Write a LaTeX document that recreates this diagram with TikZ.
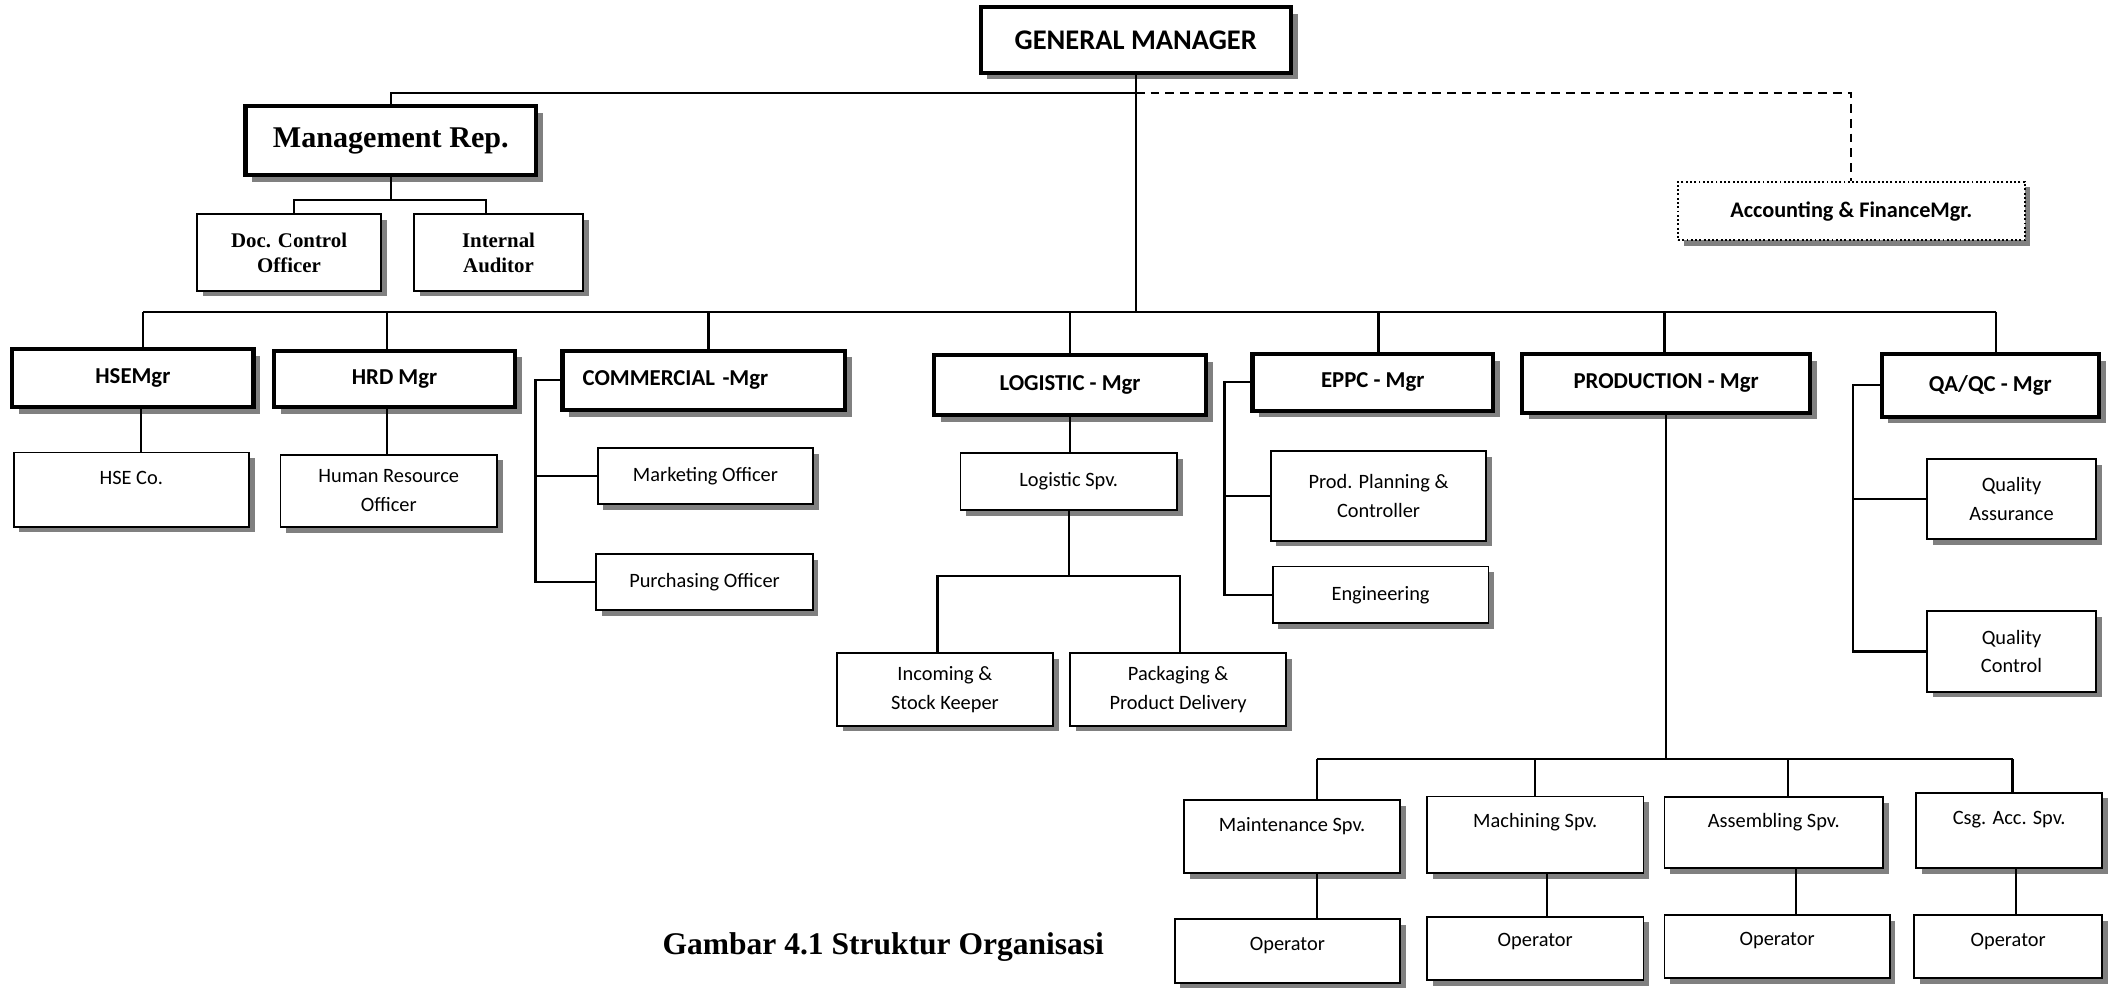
\documentclass[tikz,border=0pt]{standalone}
\usepackage{fontspec}
\setmainfont{Carlito}
\newfontfamily\seriffont{Liberation Serif}
\usetikzlibrary{shadows}

\tikzset{
  mgrbox/.style={draw, line width=1.8pt, fill=white, inner sep=2pt,
    font=\fontsize{9.6}{11}\selectfont\bfseries,
    drop shadow={shadow xshift=0.1cm, shadow yshift=-0.1cm, fill=gray, opacity=1}},
  staffbox/.style={draw, line width=0.8pt, fill=white, align=center, inner sep=2pt,
    font=\fontsize{8.6}{12.2}\selectfont,
    drop shadow={shadow xshift=0.085cm, shadow yshift=-0.085cm, fill=gray, opacity=1}},
  conn/.style={line width=0.9pt},
  textup/.style={text depth=#1},
  sz/.style 2 args={minimum width=#1cm, minimum height=#2cm},
}

\begin{document}
\begin{tikzpicture}[x=0.02cm, y=-0.02cm]
    \useasboundingbox (0,0) rectangle (1568,732);

    % Top level
    \node[mgrbox, sz={4.6}{0.97}, font=\fontsize{12}{14}\selectfont\bfseries] (gm) at (842,29.7) {GENERAL MANAGER};
    \node[mgrbox, sz={4.31}{1.02}, font=\fontsize{12.7}{14}\selectfont\seriffont\bfseries] (mr) at (289.7,104.2) {Management Rep.};
    \node[staffbox, sz={2.72}{1.13}, font=\fontsize{8.8}{10.5}\selectfont\seriffont\bfseries] (dc) at (214.3,187.2) {Doc. Control\\Officer};
    \node[staffbox, sz={2.5}{1.13}, font=\fontsize{8.8}{10.5}\selectfont\seriffont\bfseries] (ia) at (369.6,187.2) {Internal\\Auditor};
    \node[staffbox, sz={5.14}{0.87}, densely dotted, line width=0.9pt, font=\fontsize{9.4}{11}\selectfont\bfseries] (af) at (1372.5,156.5) {Accounting \& FinanceMgr.};

    % Managers
    \node[mgrbox, sz={3.58}{0.86}] (hse) at (98.5,280.5) {HSEMgr};
    \node[mgrbox, sz={3.58}{0.84}] (hrd) at (292.5,281) {HRD Mgr};
    \node[mgrbox, sz={4.19}{0.88}, text width=3.59cm, align=left] (com) at (521.7,282) {COMMERCIAL -Mgr};
    \node[mgrbox, sz={4.03}{0.89}] (log) at (793.3,285.3) {LOGISTIC - Mgr};
    \node[mgrbox, sz={3.57}{0.84}] (eppc) at (1017.7,283.5) {EPPC - Mgr};
    \node[mgrbox, sz={4.27}{0.87}] (prod) at (1235.2,284.2) {PRODUCTION - Mgr};
    \node[mgrbox, sz={3.22}{0.93}] (qaqc) at (1475.5,285.7) {QA/QC - Mgr};

    % Staff under the managers
    \node[staffbox, sz={3.49}{1.10}, textup=0.34cm] (hseco) at (97.3,363) {HSE Co.};
    \node[staffbox, sz={3.21}{1.08}] (hro) at (288.2,364) {Human Resource\\Officer};
    \node[staffbox, sz={3.2}{0.83}] (mkt) at (523,352.8) {Marketing Officer};
    \node[staffbox, sz={3.21}{0.83}] (pur) at (522.3,431.4) {Purchasing Officer};
    \node[staffbox, sz={3.21}{0.84}] (lspv) at (792.3,357) {Logistic Spv.};
    \node[staffbox, sz={3.2}{1.08}] (inc) at (700.5,511) {Incoming \&\\Stock Keeper};
    \node[staffbox, sz={3.2}{1.08}] (pkg) at (873.4,511) {Packaging \&\\Product Delivery};
    \node[staffbox, sz={3.2}{1.33}] (ppc) at (1022,367.6) {Prod. Planning \&\\Controller};
    \node[staffbox, sz={3.2}{0.84}] (eng) at (1023.5,441) {Engineering};
    \node[staffbox, sz={2.5}{1.19}] (qas) at (1491.3,370) {Quality\\Assurance};
    \node[staffbox, sz={2.5}{1.19}] (qct) at (1491.3,483) {Quality\\Control};

    % Production supervisors and operators
    \node[staffbox, sz={3.2}{1.09}, textup=0.36cm] (spv1) at (957.9,620.2) {Maintenance Spv.};
    \node[staffbox, sz={3.21}{1.14}, textup=0.42cm] (spv2) at (1138.2,619) {Machining Spv.};
    \node[staffbox, sz={3.24}{1.06}, textup=0.36cm] (spv3) at (1315,617.2) {Assembling Spv.};
    \node[staffbox, sz={2.76}{1.12}, textup=0.37cm] (spv4) at (1489.5,615.7) {Csg. Acc. Spv.};
    \node[staffbox, sz={3.34}{0.94}, textup=0.2cm] (op1) at (954.4,705) {Operator};
    \node[staffbox, sz={3.21}{0.94}, textup=0.24cm] (op2) at (1138.2,703) {Operator};
    \node[staffbox, sz={3.34}{0.94}, textup=0.24cm] (op3) at (1317.5,701.8) {Operator};
    \node[staffbox, sz={2.79}{0.94}, textup=0.2cm] (op4) at (1488.8,701.8) {Operator};

    % Caption
    \node[anchor=base, font=\fontsize{13.3}{15}\selectfont\seriffont\bfseries] (caption) at (654.8,708) {Gambar 4.1 Struktur Organisasi};

    % Top connectors
    \coordinate (gmj) at (842,68.7);
    \coordinate (busl) at (106,231);
    \coordinate (busr) at (1480,231);
    \draw[conn] (gm.south) -- (gm.south |- busl);
    \draw[conn] (gmj) -| (mr.north);
    \draw[conn, dash pattern=on 0.13cm off 0.09cm] (gmj) -| (af.north);

    % Management Rep. staff
    \coordinate (mrl) at (218,148.3);
    \coordinate (mrr) at (360.4,148.3);
    \draw[conn] (mr.south) -- (mr.south |- mrl);
    \draw[conn] (dc.north -| mrl) -- (mrl) -- (mrr) -- (ia.north -| mrr);

    % Main bus and drops
    \draw[conn] (busl) -- (busr);
    \foreach \n/\x in {hse/106, hrd/287, com/525.3, log/793.5, eppc/1022, prod/1234, qaqc/1480}
        \draw[conn] (\x,231) -- (\x,231 |- \n.north);

    % HSE and HRD
    \draw[conn] (104.3,0 |- hse.south) -- (104.3,0 |- hseco.north);
    \draw[conn] (287,0 |- hrd.south) -- (287,0 |- hro.north);

    % Commercial bracket
    \coordinate (comb) at (397,282);
    \draw[conn] (com.west) -- (comb) |- (pur.west);
    \draw[conn] (comb |- mkt.west) -- (mkt.west);

    % Logistic
    \coordinate (incj) at (695,427);
    \coordinate (pkgj) at (875,427);
    \draw[conn] (log.south) -- (log.south |- lspv.north);
    \draw[conn] (lspv.south) -- (lspv.south |- incj);
    \draw[conn] (inc.north -| incj) -- (incj) -- (pkgj) -- (pkg.north -| pkgj);

    % EPPC bracket
    \coordinate (eppcb) at (907.8,280.6);
    \draw[conn] (eppc.west) -- (eppc.west -| eppcb) |- (eng.west);
    \draw[conn] (eppcb |- ppc.west) -- (ppc.west);

    % Production
    \coordinate (prodl) at (976.2,562.9);
    \coordinate (prodr) at (1492,562.9);
    \draw[conn] (prod.south) -- (prod.south |- prodl);
    \draw[conn] (prodl) -- (prodr);
    \foreach \n/\x in {1/976.2, 2/1138, 3/1325.7, 4/1492}
        \draw[conn] (\x,562.9) -- (\x,562.9 |- spv\n.north);
    \foreach \n/\x in {1/976.2, 2/1146.7, 3/1331.4, 4/1494.8}
        \draw[conn] (\x,0 |- spv\n.south) -- (\x,0 |- op\n.north);

    % QA/QC bracket
    \coordinate (qab) at (1374,287.4);
    \draw[conn] (qaqc.west) -- (qaqc.west -| qab) |- (qct.west);
    \draw[conn] (qab |- qas.west) -- (qas.west);
\end{tikzpicture}
\end{document}
